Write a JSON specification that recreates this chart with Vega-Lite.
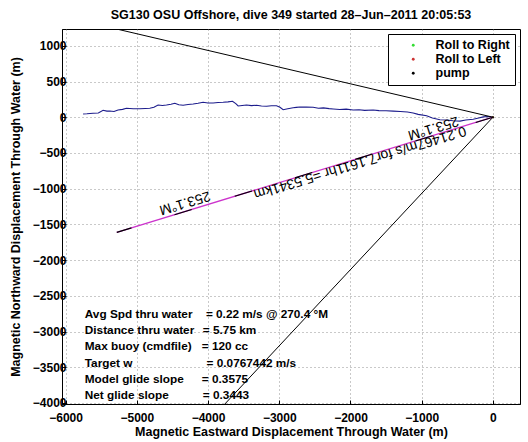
{
  "$schema": "https://vega.github.io/schema/vega-lite/v6.json",
  "width": 458,
  "height": 375,
  "autosize": {"type": "none"},
  "padding": {"left": 62, "top": 29, "right": 8, "bottom": 38},
  "background": "white",
  "config": {
    "font": "Liberation Sans",
    "view": {"stroke": "black", "strokeWidth": 1},
    "axis": {
      "domainColor": "black",
      "tickColor": "black",
      "tickSize": -4,
      "labelFont": "Liberation Sans",
      "labelFontWeight": "bold",
      "labelFontSize": 12,
      "labelColor": "black",
      "labelOverlap": false,
      "titleFont": "Liberation Sans",
      "titleFontWeight": "bold",
      "titleFontSize": 12.5,
      "titleColor": "black",
      "gridColor": "#777777",
      "gridDash": [1, 3],
      "gridWidth": 0.8,
      "gridOpacity": 1
    }
  },
  "title": {
    "text": "SG130 OSU Offshore, dive 349 started 28–Jun–2011 20:05:53",
    "fontSize": 12.5,
    "fontWeight": "bold",
    "font": "Liberation Sans",
    "color": "black",
    "anchor": "middle",
    "offset": 8
  },
  "datasets": {
    "track": [
      {"i": 0, "x": -5754, "y": 45}, {"i": 1, "x": -5700, "y": 48}, {"i": 2, "x": -5614, "y": 55},
      {"i": 3, "x": -5540, "y": 60}, {"i": 4, "x": -5473, "y": 97}, {"i": 5, "x": -5420, "y": 85},
      {"i": 6, "x": -5379, "y": 87}, {"i": 7, "x": -5320, "y": 80}, {"i": 8, "x": -5263, "y": 101},
      {"i": 9, "x": -5200, "y": 110}, {"i": 10, "x": -5145, "y": 125}, {"i": 11, "x": -5050, "y": 118},
      {"i": 12, "x": -4958, "y": 119}, {"i": 13, "x": -4880, "y": 122}, {"i": 14, "x": -4817, "y": 125},
      {"i": 15, "x": -4760, "y": 140}, {"i": 16, "x": -4701, "y": 171}, {"i": 17, "x": -4640, "y": 165},
      {"i": 18, "x": -4583, "y": 171}, {"i": 19, "x": -4520, "y": 182}, {"i": 20, "x": -4466, "y": 195},
      {"i": 21, "x": -4410, "y": 175}, {"i": 22, "x": -4350, "y": 167}, {"i": 23, "x": -4280, "y": 178},
      {"i": 24, "x": -4209, "y": 185}, {"i": 25, "x": -4140, "y": 196}, {"i": 26, "x": -4069, "y": 209},
      {"i": 27, "x": -4000, "y": 200}, {"i": 28, "x": -3928, "y": 199}, {"i": 29, "x": -3860, "y": 205},
      {"i": 30, "x": -3788, "y": 209}, {"i": 31, "x": -3720, "y": 215}, {"i": 32, "x": -3656, "y": 223},
      {"i": 33, "x": -3610, "y": 190}, {"i": 34, "x": -3577, "y": 157}, {"i": 35, "x": -3520, "y": 165},
      {"i": 36, "x": -3459, "y": 171}, {"i": 37, "x": -3390, "y": 162}, {"i": 38, "x": -3319, "y": 167},
      {"i": 39, "x": -3250, "y": 158}, {"i": 40, "x": -3178, "y": 153}, {"i": 41, "x": -3110, "y": 160},
      {"i": 42, "x": -3038, "y": 161}, {"i": 43, "x": -2990, "y": 140}, {"i": 44, "x": -2945, "y": 105},
      {"i": 45, "x": -2880, "y": 118}, {"i": 46, "x": -2805, "y": 133}, {"i": 47, "x": -2760, "y": 138},
      {"i": 48, "x": -2711, "y": 143}, {"i": 49, "x": -2620, "y": 141}, {"i": 50, "x": -2524, "y": 139},
      {"i": 51, "x": -2450, "y": 126}, {"i": 52, "x": -2380, "y": 131}, {"i": 53, "x": -2300, "y": 120},
      {"i": 54, "x": -2243, "y": 115}, {"i": 55, "x": -2150, "y": 108}, {"i": 56, "x": -2060, "y": 113},
      {"i": 57, "x": -1962, "y": 101}, {"i": 58, "x": -1880, "y": 105}, {"i": 59, "x": -1800, "y": 96},
      {"i": 60, "x": -1681, "y": 101}, {"i": 61, "x": -1600, "y": 92}, {"i": 62, "x": -1500, "y": 90},
      {"i": 63, "x": -1400, "y": 85}, {"i": 64, "x": -1300, "y": 80}, {"i": 65, "x": -1200, "y": 72},
      {"i": 66, "x": -1120, "y": 60}, {"i": 67, "x": -1050, "y": 40}, {"i": 68, "x": -931, "y": 20},
      {"i": 69, "x": -850, "y": -10}, {"i": 70, "x": -744, "y": -35}, {"i": 71, "x": -650, "y": -40},
      {"i": 72, "x": -560, "y": -50}, {"i": 73, "x": -463, "y": -55}, {"i": 74, "x": -380, "y": -40},
      {"i": 75, "x": -277, "y": -28}, {"i": 76, "x": -200, "y": -10}, {"i": 77, "x": -136, "y": 5},
      {"i": 78, "x": -60, "y": 10}, {"i": 79, "x": 0, "y": 0}
    ],
    "guides": [
      {"line": "upper", "i": 0, "x": 0, "y": 0},
      {"line": "upper", "i": 1, "x": -8000, "y": 1870},
      {"line": "lower", "i": 0, "x": 0, "y": 0},
      {"line": "lower", "i": 1, "x": -4300, "y": -4587}
    ],
    "heading": [
      {"i": 0, "x": 0, "y": 0},
      {"i": 1, "x": -5281, "y": -1612}
    ],
    "headingText": [
      {"x": -4326, "y": -1196, "text": "253.1°M"},
      {"x": -1868, "y": -631, "text": "0.21467m/s for7.1611hr =5.5341km"},
      {"x": -838, "y": -149, "text": "253.1°M"}
    ],
    "stats": [
      {"x": -5730, "y": -2757, "text": "Avg Spd thru water"},
      {"x": -4030, "y": -2757, "text": "=  0.22 m/s @ 270.4 °M"},
      {"x": -5730, "y": -2983, "text": "Distance thru water"},
      {"x": -4073, "y": -2983, "text": "=  5.75 km"},
      {"x": -5730, "y": -3209, "text": "Max buoy (cmdfile)"},
      {"x": -4087, "y": -3209, "text": "= 120 cc"},
      {"x": -5730, "y": -3435, "text": "Target w"},
      {"x": -4020, "y": -3435, "text": "= 0.0767442 m/s"},
      {"x": -5730, "y": -3661, "text": "Model glide slope"},
      {"x": -4087, "y": -3661, "text": "= 0.3575"},
      {"x": -5730, "y": -3887, "text": "Net glide slope"},
      {"x": -4073, "y": -3887, "text": "= 0.3443"}
    ],
    "legendPts": [
      {"kind": "Roll to Right", "x": 0, "y": 0},
      {"kind": "Roll to Left", "x": 0, "y": 0},
      {"kind": "pump", "x": 0, "y": 0}
    ]
  },
  "layer": [
    {
      "data": {"name": "track"},
      "mark": {"type": "line", "color": "#1c1c8c", "strokeWidth": 1.1, "clip": true},
      "encoding": {
        "x": {
          "field": "x", "type": "quantitative",
          "scale": {"domain": [-6050, 380], "nice": false, "zero": false},
          "axis": {
            "title": "Magnetic Eastward Displacement Through Water (m)",
            "values": [-6000, -5000, -4000, -3000, -2000, -1000, 0],
            "format": "d",
            "labelPadding": 12,
            "titlePadding": 2
          }
        },
        "y": {
          "field": "y", "type": "quantitative",
          "scale": {"domain": [-4015, 1235], "nice": false, "zero": false},
          "axis": {
            "title": "Magnetic Northward Displacement Through Water (m)",
            "values": [-4000, -3500, -3000, -2500, -2000, -1500, -1000, -500, 0, 500, 1000],
            "tickCount": 11,
            "format": "d",
            "labelPadding": 0,
            "titlePadding": 10
          }
        },
        "order": {"field": "i", "type": "quantitative"}
      }
    },
    {
      "data": {"name": "guides"},
      "mark": {"type": "line", "color": "black", "strokeWidth": 1, "clip": true},
      "encoding": {
        "x": {"field": "x", "type": "quantitative"},
        "y": {"field": "y", "type": "quantitative"},
        "detail": {"field": "line"},
        "order": {"field": "i", "type": "quantitative"}
      }
    },
    {
      "data": {"name": "heading"},
      "mark": {"type": "line", "color": "#cc33cc", "strokeWidth": 1.3, "clip": true},
      "encoding": {
        "x": {"field": "x", "type": "quantitative"},
        "y": {"field": "y", "type": "quantitative"},
        "order": {"field": "i", "type": "quantitative"}
      }
    },
    {
      "data": {"name": "heading"},
      "mark": {"type": "line", "color": "black", "strokeWidth": 1.1, "strokeDash": [18, 45], "clip": true},
      "encoding": {
        "x": {"field": "x", "type": "quantitative"},
        "y": {"field": "y", "type": "quantitative"},
        "order": {"field": "i", "type": "quantitative"}
      }
    },
    {
      "data": {"name": "headingText"},
      "mark": {"type": "text", "angle": 163.1, "align": "center", "baseline": "middle", "fontSize": 14, "font": "Liberation Sans", "color": "black"},
      "encoding": {
        "x": {"field": "x", "type": "quantitative"},
        "y": {"field": "y", "type": "quantitative"},
        "text": {"field": "text"}
      }
    },
    {
      "data": {"name": "stats"},
      "mark": {"type": "text", "align": "left", "baseline": "middle", "fontSize": 11.8, "fontWeight": "bold", "font": "Liberation Sans", "color": "black"},
      "encoding": {
        "x": {"field": "x", "type": "quantitative"},
        "y": {"field": "y", "type": "quantitative"},
        "text": {"field": "text"}
      }
    },
    {
      "data": {"name": "legendPts"},
      "mark": {"type": "point", "filled": true, "size": 4, "opacity": 1},
      "encoding": {
        "x": {"field": "x", "type": "quantitative"},
        "y": {"field": "y", "type": "quantitative"},
        "color": {
          "field": "kind", "type": "nominal",
          "scale": {"domain": ["Roll to Right", "Roll to Left", "pump"], "range": ["#33dd33", "#cc3333", "#000000"]},
          "legend": {
            "title": null,
            "orient": "top-right",
            "offset": 5,
            "fillColor": "white",
            "strokeColor": "black",
            "padding": 5,
            "labelFont": "Liberation Sans",
            "labelFontWeight": "bold",
            "labelFontSize": 12.5,
            "labelColor": "black",
            "symbolSize": 8,
            "symbolType": "circle",
            "symbolOffset": 14,
            "labelOffset": 16,
            "rowPadding": 1
          }
        }
      }
    }
  ]
}
